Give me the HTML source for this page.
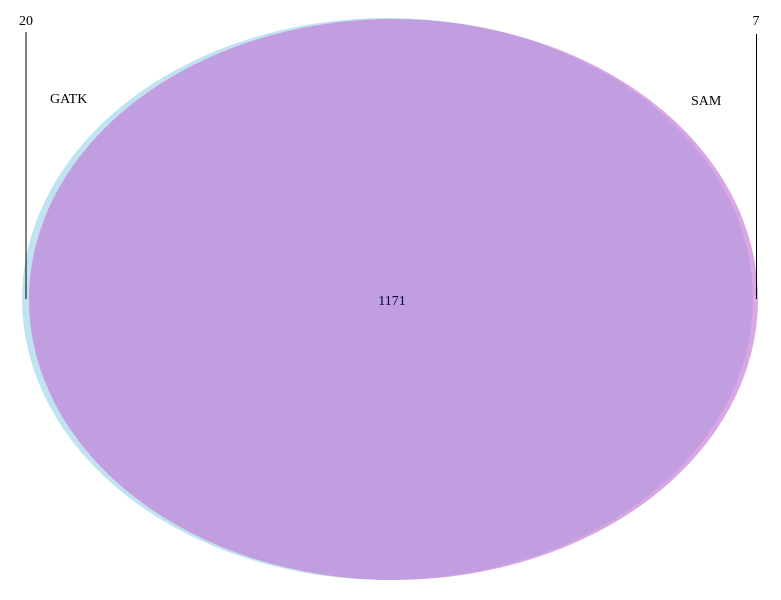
<!DOCTYPE html>
<html><head><meta charset="utf-8"><style>
body{margin:0;background:#fff;}
svg{display:block;font-family:"Liberation Serif",serif;}
</style></head><body>
<svg width="781" height="600">
<script>
</script>
<g id="g"></g>
<text x="26" y="25" font-size="14" text-anchor="middle">20</text>
<line x1="26" y1="32" x2="26" y2="299" stroke="#000" stroke-width="1"/>
<text x="756" y="25" font-size="14" text-anchor="middle">7</text>
<line x1="756.5" y1="34" x2="756.5" y2="299" stroke="#000" stroke-width="1"/>
<text x="50" y="103" font-size="14">GATK</text>
<text x="691" y="105" font-size="14">SAM</text>
</svg>
<script>
const setNames=["GATK","SAM"];
const onlyCounts=[20,7];
const overlapCount=[1171];
const svg=document.querySelector('svg');
const ns="http://www.w3.org/2000/svg";
const g=document.getElementById('g');


const a=document.createElementNS(ns,'ellipse');
a.setAttribute('cx',387.5);a.setAttribute('cy',299);a.setAttribute('rx',365.5);a.setAttribute('ry',281);
a.setAttribute('fill','#bfe4f0');


g.appendChild(a);
const b=document.createElementNS(ns,'ellipse');
b.setAttribute('cx',393.5);b.setAttribute('cy',299.5);b.setAttribute('rx',364.5);b.setAttribute('ry',280.5);
b.setAttribute('fill','#dba6e6');


g.appendChild(b);
const cp=document.createElementNS(ns,'clipPath');cp.id='cpA';
const ce=a.cloneNode();cp.appendChild(ce);svg.insertBefore(cp,g);
const o=document.createElementNS(ns,'ellipse');
o.setAttribute('cx',393.5);o.setAttribute('cy',299.5);o.setAttribute('rx',364.5);o.setAttribute('ry',280.5);
o.setAttribute('fill','#c09ee0');o.setAttribute('clip-path','url(#cpA)');


g.appendChild(o);
const t=document.createElementNS(ns,'text');
t.setAttribute('x',392);t.setAttribute('y',305);t.setAttribute('font-size','14');t.setAttribute('text-anchor','middle');t.setAttribute('fill','#000040');
t.textContent=overlapCount[0];


svg.appendChild(t);
</script>
</body></html>
